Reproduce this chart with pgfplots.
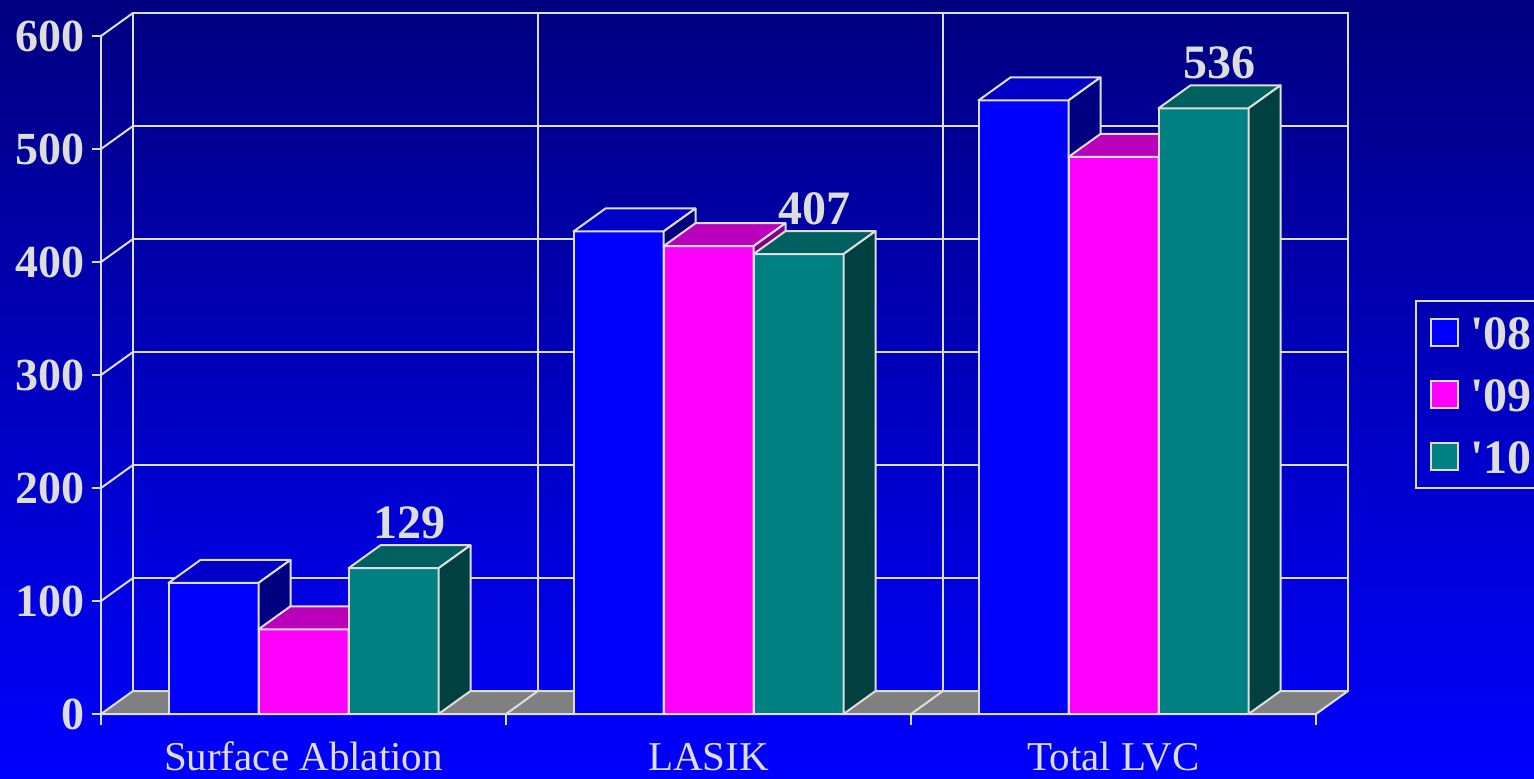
\documentclass[border=0pt]{standalone}
\usepackage{fontspec}
\setmainfont{Liberation Serif}
\usepackage{pgfplots}
\usepackage{pgfplotstable}
\pgfplotsset{compat=1.18}
\pgfplotsset{/pgf/number format/assume math mode=true}

\definecolor{bgtop}{RGB}{0,0,128}
\definecolor{bgbot}{RGB}{0,0,255}
\definecolor{edge}{RGB}{221,221,221}
\definecolor{floor}{RGB}{128,128,128}
\definecolor{c08}{RGB}{0,0,255}
\definecolor{t08}{RGB}{0,0,200}
\definecolor{s08}{RGB}{0,0,128}
\definecolor{c09}{RGB}{255,0,255}
\definecolor{t09}{RGB}{187,0,187}
\definecolor{s09}{RGB}{128,0,128}
\definecolor{c10}{RGB}{0,128,128}
\definecolor{t10}{RGB}{0,96,96}
\definecolor{s10}{RGB}{0,64,64}

% categories 0,1,2 ; a='08 b='09 c='10
\pgfplotstableread{
x  a    b    c
0  116  75   129
1  427  414  407
2  543  493  536
}\lvc

% a whole 3D bar (front, top, side), drawn from the top of its value
% #2 = left edge of the bar (pt) relative to the category centre
\newcommand\boxmark[5]{%
  \pgfdeclareplotmark{#1}{%
    \pgfmathsetmacro\bh{\barh*0.565}%
    \draw[edge,line width=1pt,line join=round,fill=#3] (#2pt,0pt) rectangle (#2pt+45pt,-\bh pt);
    \draw[edge,line width=1pt,line join=round,fill=#4] (#2pt,0pt) -- ++(16pt,11.5pt) -- ++(45pt,0pt) -- ++(-16pt,-11.5pt) -- cycle;
    \draw[edge,line width=1pt,line join=round,fill=#5] (#2pt+45pt,0pt) -- ++(16pt,11.5pt) -- ++(0pt,-\bh pt) -- ++(-16pt,-11.5pt) -- cycle;
  }}
\boxmark{box08}{-67.5}{c08}{t08}{s08}
\boxmark{box09}{-22.5}{c09}{t09}{s09}
\boxmark{box10}{22.5}{c10}{t10}{s10}

\pgfplotsset{
  box3d/.style={scatter, only marks, mark=#1, visualization depends on={rawy \as \barh},
    scatter/@pre marker code/.code={}, scatter/@post marker code/.code={}, forget plot},
}
\newcommand\legbox[1]{\draw[fill=#1, draw=edge, line width=1pt] (0pt,-6.75pt) rectangle (13.5pt,6.75pt);}

\begin{document}
\begin{tikzpicture}
\path[use as bounding box] (0,0) rectangle (767pt,389pt);
\clip (0,0) rectangle (767pt,389pt);
\shade[top color=bgtop, bottom color=bgbot] (0,0) rectangle (767pt,389pt);

% back wall
\begin{axis}[
  at={(66.5pt,43.5pt)}, anchor=south west,
  x=202.5pt, y=0.565pt,
  xmin=-0.5, xmax=2.5, ymin=0, ymax=600,
  xtick={0.5,1.5}, ytick={0,100,...,600},
  xticklabels={}, yticklabels={},
  major tick length=0pt,
  grid=major,
  grid style={edge, line width=1pt},
  axis line style={edge, line width=1pt},
]
\end{axis}

% front
\begin{axis}[
  at={(50.5pt,32pt)}, anchor=south west,
  x=202.5pt, y=0.565pt,
  xmin=-0.5, xmax=2.5, ymin=0, ymax=600,
  clip=false,
  axis x line*=bottom, axis y line*=left,
  axis line style={edge, line width=1pt},
  xtick={0,1,2},
  xticklabels={Surface Ablation, LASIK, Total LVC},
  xtick style={draw=none},
  ytick={0,100,...,600},
  ytick style={edge, line width=1pt},
  tick align=outside,
  major tick length=4.5pt,
  yticklabel style={font=\fontsize{23}{23}\selectfont\bfseries, text=edge, xshift=0pt},
  xticklabel style={font=\fontsize{20.5}{20.5}\selectfont, text=edge, anchor=north,
    inner sep=0pt, text height=14pt, text depth=0pt, yshift=-9.5pt},
  legend style={at={(1.0815,0.6106)}, anchor=north west, draw=edge, line width=1pt,
    fill=none, text=edge, font=\fontsize{24}{24}\selectfont\bfseries,
    inner xsep=7pt, inner ysep=7.25pt, row sep=14pt, column sep=5.5pt,
    nodes={inner sep=0pt, text height=17pt, text depth=0pt}},
  legend cell align=left,
]
% floor
\fill[floor, draw=edge, line width=1pt, line join=round] (axis cs:-0.5,0) -- (axis cs:2.5,0) -- ++(16pt,11.5pt) -- ++(-607.5pt,0pt) -- cycle;
\pgfplotsinvokeforeach{0.5,1.5}{\draw[edge, line width=1pt] (axis cs:#1,0) -- ++(16pt,11.5pt);}
\pgfplotsinvokeforeach{-0.5,0.5,1.5,2.5}{\draw[edge, line width=1pt] (axis cs:#1,0) -- ++(0pt,-5.5pt);}
% left wall
\pgfplotsinvokeforeach{100,200,300,400,500,600}{\draw[edge, line width=1pt] (axis cs:-0.5,#1) -- ++(16pt,11.5pt);}

\addplot[box3d=box08] table[x=x, y=a] {\lvc};
\addplot[box3d=box09] table[x=x, y=b] {\lvc};
\addplot[box3d=box10, nodes near coords,
  every node near coord/.append style={anchor=base, xshift=53pt, yshift=15pt,
    font=\fontsize{24}{24}\selectfont\bfseries, text=edge}] table[x=x, y=c] {\lvc};

\addlegendimage{legend image code/.code={\legbox{c08}}}
\addlegendentry{\textquotesingle 08}
\addlegendimage{legend image code/.code={\legbox{c09}}}
\addlegendentry{\textquotesingle 09}
\addlegendimage{legend image code/.code={\legbox{c10}}}
\addlegendentry{\textquotesingle 10}
\end{axis}
\end{tikzpicture}
\end{document}
